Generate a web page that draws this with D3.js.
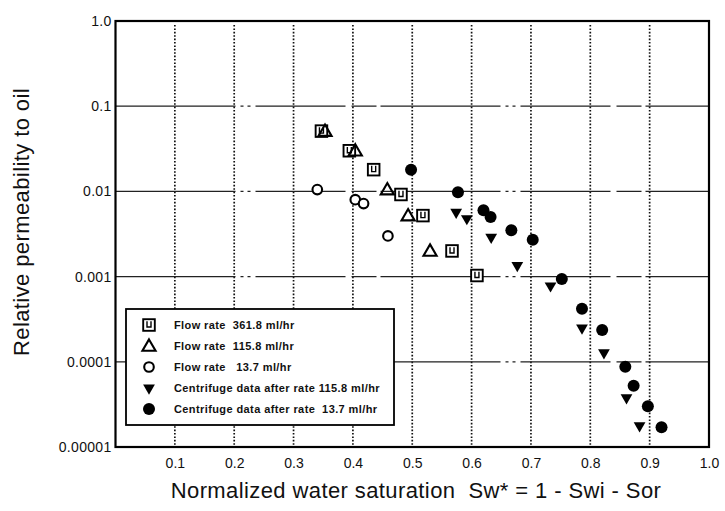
<!DOCTYPE html>
<html>
<head>
<meta charset="utf-8">
<script src="https://cdn.jsdelivr.net/npm/d3@7"></script>
<style>
  body { margin: 0; background: #fff; }
  svg { display: block; font-family: "Liberation Sans", Arial, Helvetica, sans-serif; }
  text { white-space: pre; }
</style>
</head>
<body>
<svg id="chart" width="725" height="511"></svg>
<script>
// data: [normalized Sw, kro]
const flow3618 = [[0.347, 0.051], [0.394, 0.030], [0.435, 0.018], [0.481, 0.0092], [0.518, 0.0052], [0.567, 0.0020], [0.609, 0.00103]];
const flow1158 = [[0.353, 0.051], [0.404, 0.030], [0.458, 0.0105], [0.493, 0.0052], [0.53, 0.0020]];
const flow137 = [[0.34, 0.0105], [0.404, 0.0080], [0.418, 0.0072], [0.459, 0.0030]];
const centri1158 = [[0.574, 0.0057], [0.592, 0.0048], [0.633, 0.0029], [0.677, 0.00135], [0.733, 0.00078], [0.786, 0.00025], [0.823, 0.000128], [0.861, 0.000038], [0.883, 0.0000178]];
const centri137 = [[0.498, 0.018], [0.577, 0.0098], [0.62, 0.006], [0.632, 0.005], [0.667, 0.0035], [0.703, 0.0027], [0.752, 0.00094], [0.786, 0.00042], [0.82, 0.000236], [0.859, 0.0000873], [0.873, 0.0000522], [0.897, 0.000030], [0.92, 0.000017]];

const xTicks = [0.1, 0.2, 0.3, 0.4, 0.5, 0.6, 0.7, 0.8, 0.9, 1.0];
const xTickLabels = ["0.1", "0.2", "0.3", "0.4", "0.5", "0.6", "0.7", "0.8", "0.9", "1.0"];
const yTicks = [1, 0.1, 0.01, 0.001, 0.0001, 0.00001];
const yTickLabels = ["1.0", "0.1", "0.01", "0.001", "0.0001", "0.00001"];
const legendLabels = [
  "Flow rate  361.8 ml/hr",
  "Flow rate  115.8 ml/hr",
  "Flow rate   13.7 ml/hr",
  "Centrifuge data after rate 115.8 ml/hr",
  "Centrifuge data after rate  13.7 ml/hr"
];

const svg = d3.select("#chart");
const plotLeft = 115.5, plotRight = 709, plotTop = 21, plotBottom = 447;

const x = d3.scaleLinear().domain([0, 1]).range([plotLeft, plotRight]);
const y = d3.scaleLog().domain([0.00001, 1]).range([plotBottom, plotTop]);

// grid: dotted verticals, broken solid horizontals
svg.append("g")
  .selectAll("line")
  .data(xTicks.slice(0, -1))
  .join("line")
  .attr("x1", d => x(d)).attr("x2", d => x(d))
  .attr("y1", plotTop + 4).attr("y2", plotBottom)
  .attr("stroke", "#111")
  .attr("stroke-width", 1.7)
  .attr("stroke-dasharray", "1.6,1.8");

svg.append("g")
  .selectAll("line")
  .data(yTicks.slice(1, -1))
  .join("line")
  .attr("x1", plotLeft).attr("x2", plotRight)
  .attr("y1", d => y(d)).attr("y2", d => y(d))
  .attr("stroke", "#222")
  .attr("stroke-width", 1.3)
  .attr("stroke-dasharray", "120,5,3,4,3,5,90,6,25,4");

// frame
svg.append("rect")
  .attr("x", plotLeft).attr("y", plotTop)
  .attr("width", plotRight - plotLeft).attr("height", plotBottom - plotTop)
  .attr("fill", "none")
  .attr("stroke", "#000")
  .attr("stroke-width", 2.2);

// axes (labels only, no domain line)
const xAxis = svg.append("g")
  .attr("transform", `translate(0,${plotBottom})`)
  .call(d3.axisBottom(x).tickValues(xTicks).tickFormat((d, i) => xTickLabels[i]).tickSize(0).tickPadding(11));
xAxis.select(".domain").remove();
xAxis.selectAll("text").attr("font-size", 14).attr("fill", "#111").attr("font-family", "inherit");

const yAxis = svg.append("g")
  .attr("transform", `translate(${plotLeft},0)`)
  .call(d3.axisLeft(y).tickValues(yTicks).tickFormat((d, i) => yTickLabels[i]).tickSize(0).tickPadding(4));
yAxis.select(".domain").remove();
yAxis.selectAll("text").attr("font-size", 14).attr("letter-spacing", 0.3).attr("fill", "#111").attr("font-family", "inherit");

// titles
svg.append("text")
  .attr("x", 416).attr("y", 498)
  .attr("text-anchor", "middle")
  .attr("font-size", 22)
  .attr("letter-spacing", 0.4)
  .attr("fill", "#111")
  .text("Normalized water saturation  Sw* = 1 - Swi - Sor");

svg.append("text")
  .attr("transform", "translate(29,222) rotate(-90)")
  .attr("text-anchor", "middle")
  .attr("font-size", 22)
  .attr("letter-spacing", 0.4)
  .attr("fill", "#111")
  .text("Relative permeability to oil");

// markers
function drawSquare(g) {
  g.append("rect")
    .attr("x", -5.8).attr("y", -5.8).attr("width", 11.6).attr("height", 11.6)
    .attr("fill", "#fff").attr("stroke", "#000").attr("stroke-width", 1.9);
  g.append("path")
    .attr("d", "M-2,-3.8V2H2V-3.8")
    .attr("fill", "none").attr("stroke", "#000").attr("stroke-width", 1.4);
}
function drawTriangle(g) {
  g.append("path")
    .attr("d", d3.symbol(d3.symbolTriangle, 75)())
    .attr("transform", "translate(0,1)")
    .attr("fill", "none").attr("stroke", "#000").attr("stroke-width", 2.1);
}
function drawCircle(g) {
  g.append("circle").attr("r", 4.8)
    .attr("fill", "#fff").attr("stroke", "#000").attr("stroke-width", 2.1);
}
function drawDown(g) {
  g.append("path")
    .attr("d", d3.symbol(d3.symbolTriangle, 60)())
    .attr("transform", "rotate(180)")
    .attr("fill", "#000");
}
function drawDot(g) {
  g.append("circle").attr("r", 6).attr("fill", "#000");
}

const series = [
  { data: flow3618, draw: drawSquare },
  { data: flow1158, draw: drawTriangle },
  { data: flow137, draw: drawCircle },
  { data: centri1158, draw: drawDown },
  { data: centri137, draw: drawDot }
];

series.forEach(s => {
  svg.append("g")
    .selectAll("g")
    .data(s.data)
    .join("g")
    .attr("transform", d => `translate(${x(d[0])},${y(d[1])})`)
    .each(function() { s.draw(d3.select(this)); });
});

// legend
const legend = svg.append("g");
legend.append("rect")
  .attr("x", 126).attr("y", 309).attr("width", 268).attr("height", 116)
  .attr("fill", "#fff").attr("stroke", "#000").attr("stroke-width", 1.8);

const ly = d3.scalePoint().domain(d3.range(legendLabels.length)).range([325, 409]);
legendLabels.forEach((label, i) => {
  const row = legend.append("g").attr("transform", `translate(149,${ly(i)})`);
  series[i].draw(row);
  row.append("text")
    .attr("x", 25).attr("y", 4)
    .attr("font-size", 11)
    .attr("letter-spacing", 0.4)
    .attr("font-weight", "bold")
    .attr("fill", "#111")
    .text(label);
});
</script>
</body>
</html>
